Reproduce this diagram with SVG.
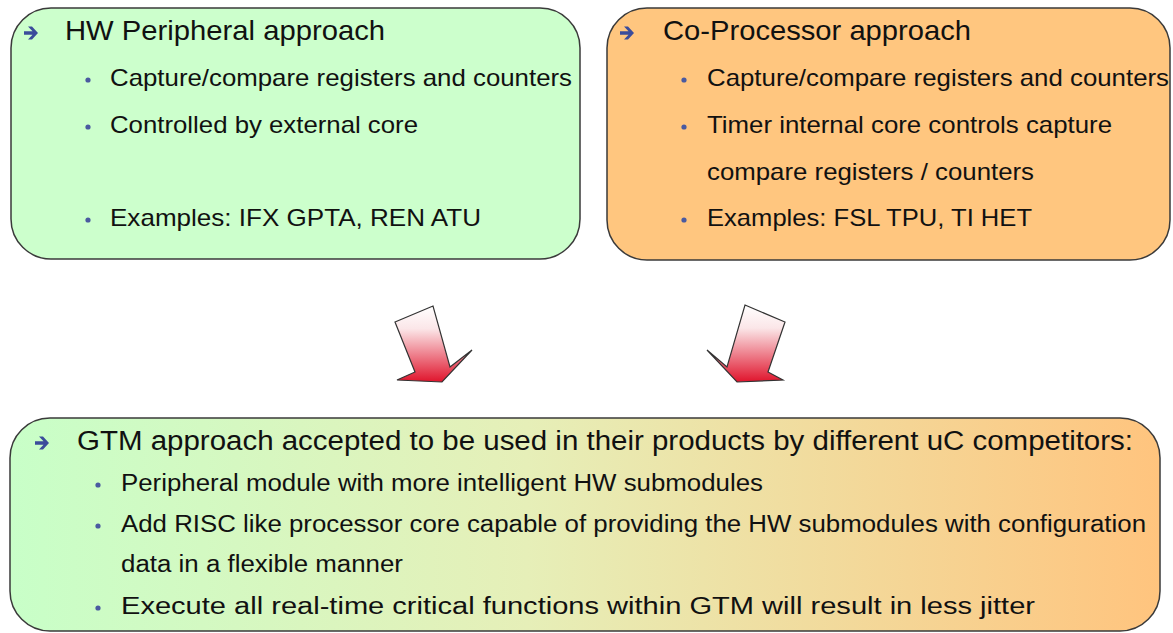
<svg xmlns="http://www.w3.org/2000/svg" width="1173" height="633" viewBox="0 0 1173 633">
<defs>
<linearGradient id="gBottom" x1="0" y1="0" x2="1" y2="0">
<stop offset="0" stop-color="#c8ffc8"/>
<stop offset="0.45" stop-color="#e6efb8"/>
<stop offset="1" stop-color="#ffc47e"/>
</linearGradient>
<linearGradient id="gArrow" x1="0" y1="0" x2="0" y2="1">
<stop offset="0" stop-color="#ffffff"/>
<stop offset="0.3" stop-color="#fbe6e8"/>
<stop offset="1" stop-color="#e0142c"/>
</linearGradient>
<path id="hdArrow" d="M-7,-1.8 H1.5 L-3,-6.5 H1 L7,0 L1,6.5 H-3 L1.5,1.8 H-7 Z"/>
</defs>
<style>
.box{stroke:#3a3a3a;stroke-width:1.5}
.t{font-family:"Liberation Sans",Arial,sans-serif;fill:#111}
.h{font-size:28px}
.b{font-size:24px}
.h3{font-size:27px}
.b3{font-size:23px}
.dot{fill:#4a5aa0}
.ha{fill:#3b4c9b}
.arr{fill:url(#gArrow);stroke:#333;stroke-width:1.2;stroke-linejoin:miter}
</style>
<g id="hw-peripheral">
<rect class="box" x="11" y="8" width="569" height="251" rx="40" ry="40" fill="#ccffcc"/>
<use href="#hdArrow" class="ha" x="31" y="33"/>
<text class="t h" x="65" y="40" textLength="320" lengthAdjust="spacingAndGlyphs">HW Peripheral approach</text>
<circle class="dot" cx="88" cy="80" r="2.6"/>
<text class="t b" x="110" y="86" textLength="462" lengthAdjust="spacingAndGlyphs">Capture/compare registers and counters</text>
<circle class="dot" cx="88" cy="127" r="2.6"/>
<text class="t b" x="110" y="133" textLength="308" lengthAdjust="spacingAndGlyphs">Controlled by external core</text>
<circle class="dot" cx="88" cy="220" r="2.6"/>
<text class="t b" x="110" y="226" textLength="371" lengthAdjust="spacingAndGlyphs">Examples: IFX GPTA, REN ATU</text>
</g>
<g id="co-processor">
<rect class="box" x="607" y="8" width="563" height="252" rx="40" ry="40" fill="#ffc67f"/>
<use href="#hdArrow" class="ha" x="627" y="33"/>
<text class="t h" x="663" y="40" textLength="308" lengthAdjust="spacingAndGlyphs">Co-Processor approach</text>
<circle class="dot" cx="684" cy="80" r="2.6"/>
<text class="t b" x="707" y="86" textLength="462" lengthAdjust="spacingAndGlyphs">Capture/compare registers and counters</text>
<circle class="dot" cx="684" cy="127" r="2.6"/>
<text class="t b" x="707" y="133" textLength="405" lengthAdjust="spacingAndGlyphs">Timer internal core controls capture</text>
<text class="t b" x="707" y="180" textLength="327" lengthAdjust="spacingAndGlyphs">compare registers / counters</text>
<circle class="dot" cx="684" cy="220" r="2.6"/>
<text class="t b" x="707" y="226" textLength="325" lengthAdjust="spacingAndGlyphs">Examples: FSL TPU, TI HET</text>
</g>
<g id="connectors">
<polygon class="arr" points="395,322 433,306 450,367 472,350 442,382 397,380 415,372"/>
<polygon class="arr" points="745,305 785,322 768,372 783,380 737,382 707,350 727,367"/>
</g>
<g id="gtm">
<rect class="box" x="10" y="418" width="1150" height="213" rx="40" ry="40" fill="url(#gBottom)"/>
<use href="#hdArrow" class="ha" x="42" y="443"/>
<text class="t h3" x="77" y="450" textLength="1056" lengthAdjust="spacingAndGlyphs">GTM approach accepted to be used in their products by different uC competitors:</text>
<circle class="dot" cx="98" cy="485" r="2.6"/>
<text class="t b3" x="121" y="491" textLength="642" lengthAdjust="spacingAndGlyphs">Peripheral module with more intelligent HW submodules</text>
<circle class="dot" cx="98" cy="526" r="2.6"/>
<text class="t b3" x="121" y="532" textLength="1025" lengthAdjust="spacingAndGlyphs">Add RISC like processor core capable of providing the HW submodules with configuration</text>
<text class="t b3" x="121" y="572" textLength="282" lengthAdjust="spacingAndGlyphs">data in a flexible manner</text>
<circle class="dot" cx="98" cy="608" r="2.6"/>
<text class="t b3" x="121" y="614" textLength="914" lengthAdjust="spacingAndGlyphs">Execute all real-time critical functions within GTM will result in less jitter</text>
</g>
</svg>
